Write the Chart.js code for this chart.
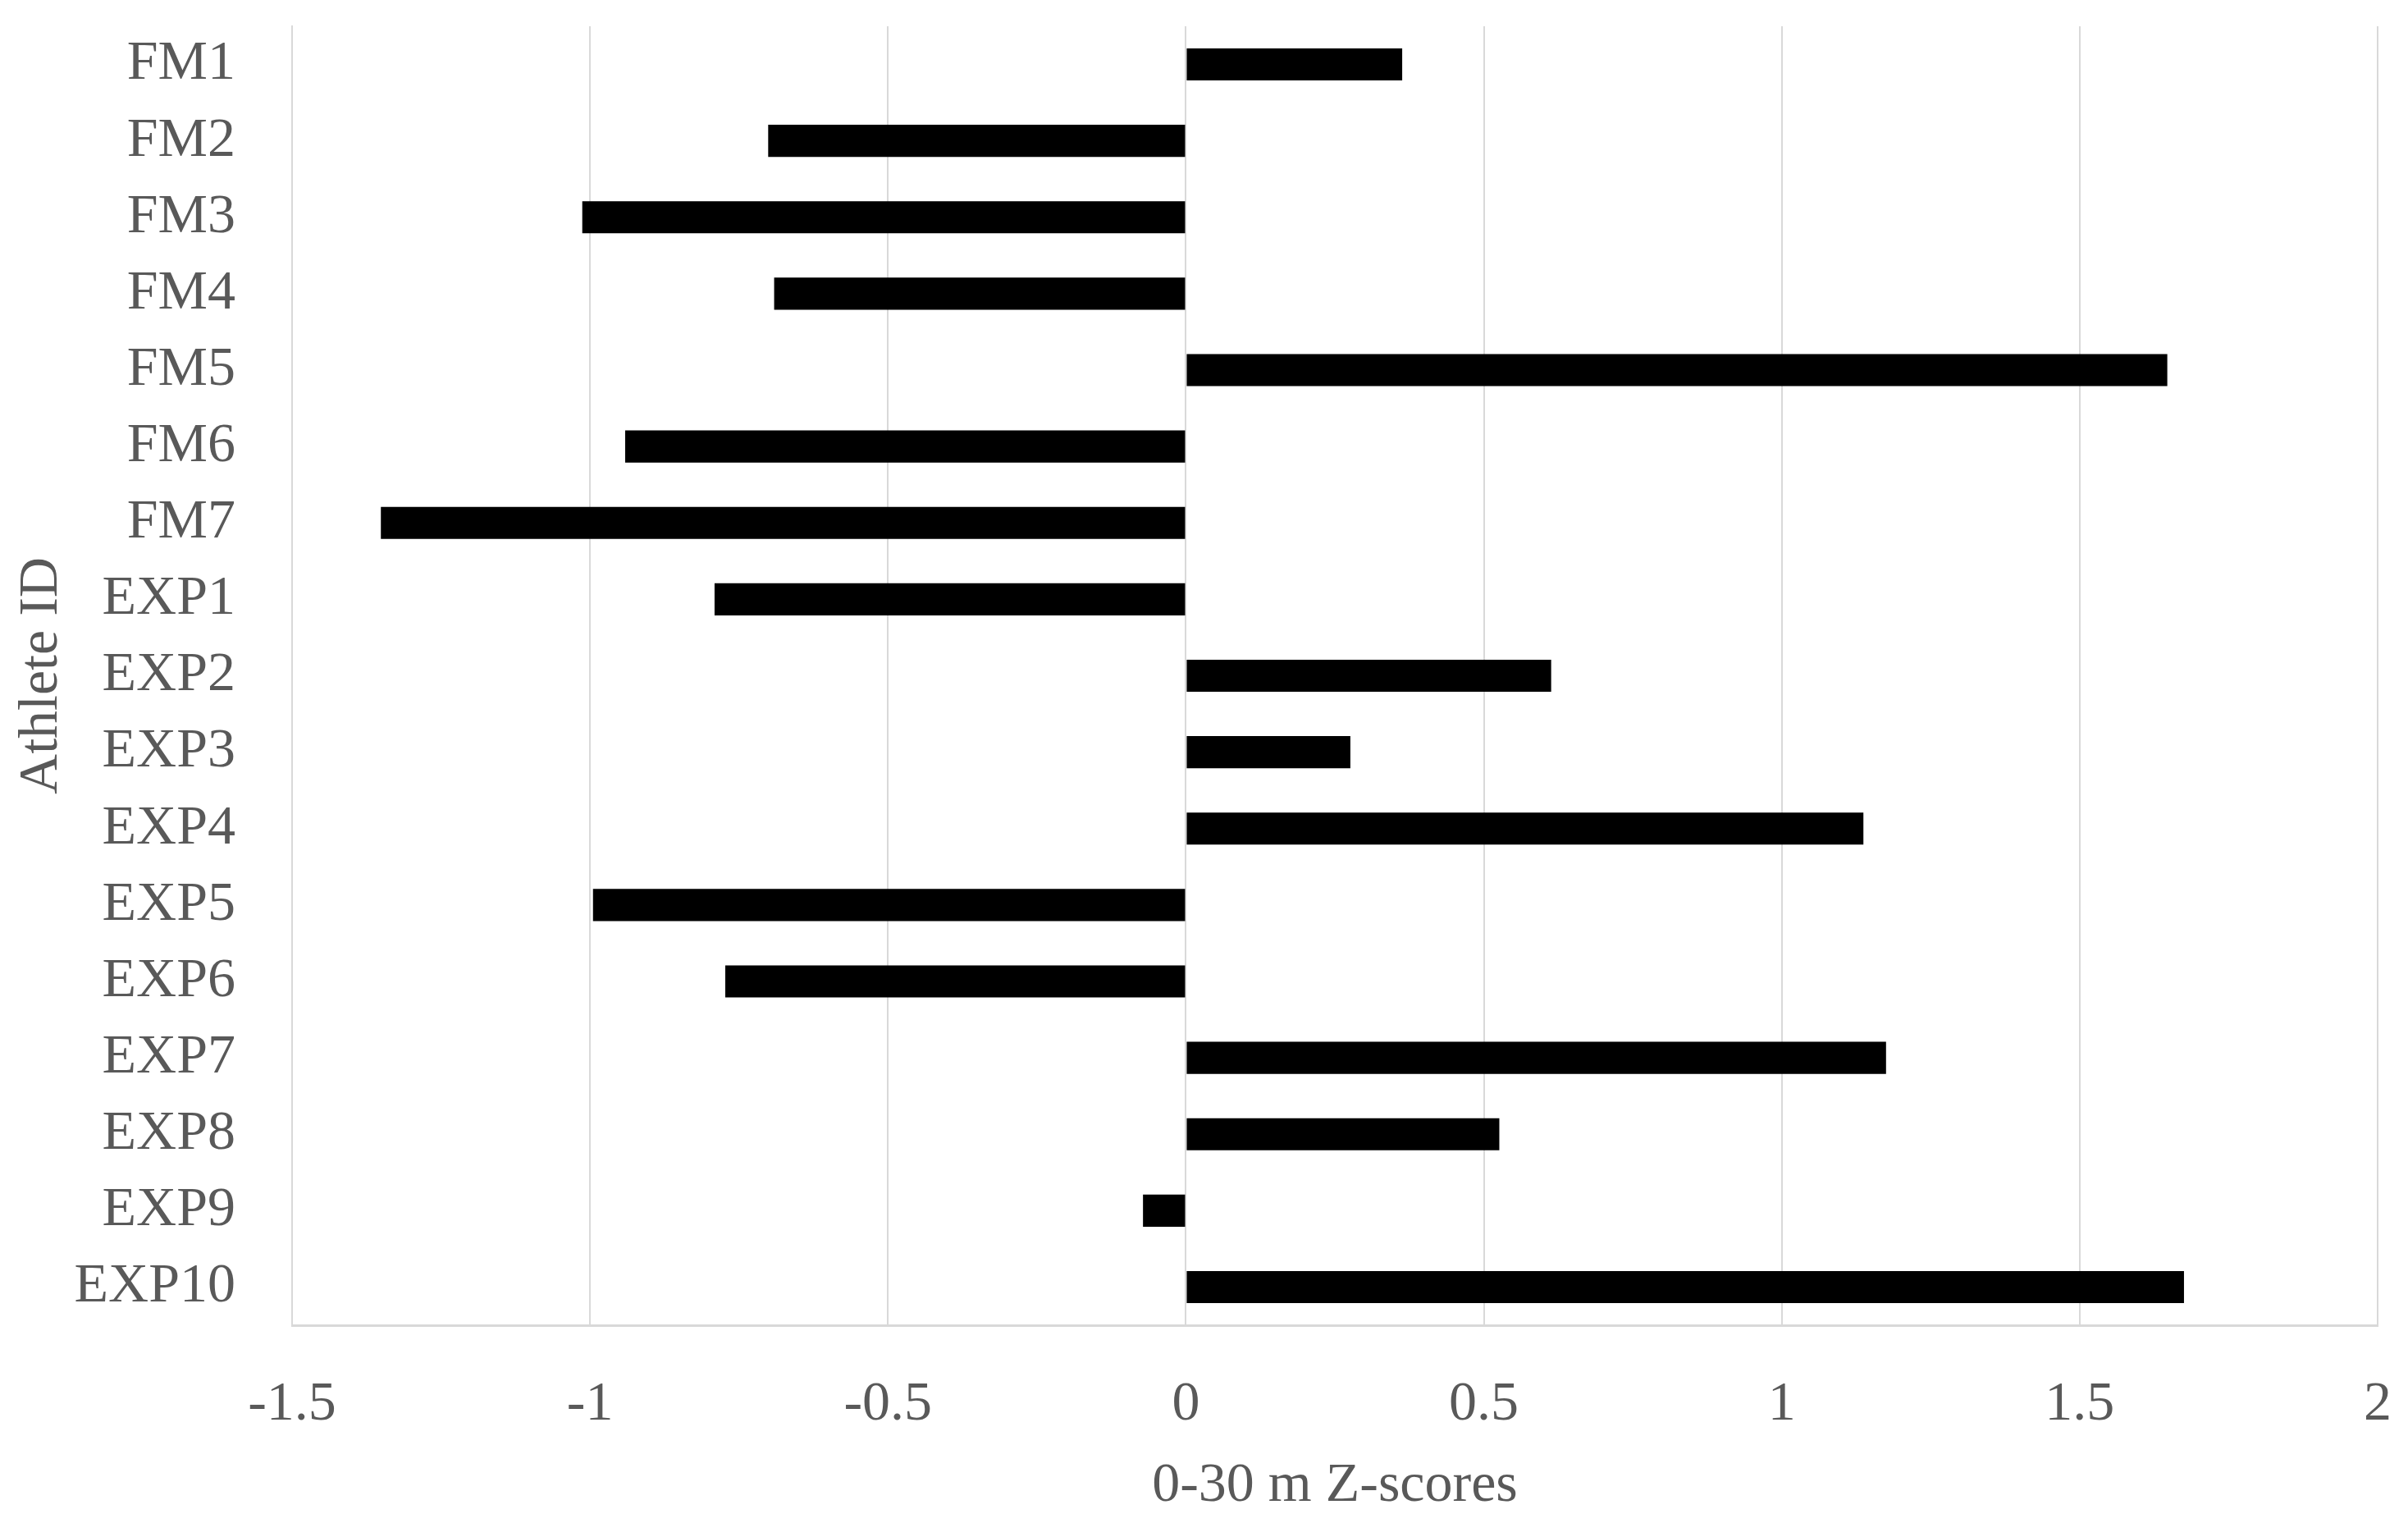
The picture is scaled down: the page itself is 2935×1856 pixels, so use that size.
<!DOCTYPE html>
<html>
<head>
<meta charset="utf-8">
<script src="https://cdn.jsdelivr.net/npm/chart.js@4"></script>
<style>
html,body{margin:0;padding:0;background:#fff;}
#wrap{width:2935px;height:1856px;position:relative;}
</style>
</head>
<body>
<div id="wrap"><canvas id="c" width="2935" height="1856"></canvas></div>
<script>
const athleteIds = ["FM1","FM2","FM3","FM4","FM5","FM6","FM7","EXP1","EXP2","EXP3","EXP4","EXP5","EXP6","EXP7","EXP8","EXP9","EXP10"];
const zScores = [0.363,-0.701,-1.013,-0.691,1.647,-0.941,-1.351,-0.791,0.613,0.276,1.137,-0.995,-0.773,1.175,0.526,-0.072,1.675];
const xTicks = [-1.5,-1,-0.5,0,0.5,1,1.5,2];
const xTitle = "0-30 m Z-scores";
const yTitle = "Athlete ID";

const FONT = "'Liberation Serif', 'Times New Roman', serif";
const TXT = "#595959";
const GRID = "#d9d9d9";

new Chart(document.getElementById('c'), {
  type: 'bar',
  data: {
    labels: athleteIds,
    datasets: [{
      data: zScores,
      backgroundColor: '#000000',
      borderWidth: 0,
      categoryPercentage: 1.0,
      barPercentage: 0.42
    }]
  },
  options: {
    indexAxis: 'y',
    responsive: false,
    animation: false,
    devicePixelRatio: 1,
    layout: { padding: { top: 32, right: 37, left: 0, bottom: 0 } },
    plugins: { legend: { display: false }, tooltip: { enabled: false } },
    scales: {
      x: {
        type: 'linear',
        min: -1.5, max: 2,
        afterBuildTicks: (s) => { s.ticks = xTicks.map(v => ({ value: v })); },
        afterFit: (s) => { s.height = 241; s.paddingLeft = 0; s.paddingRight = 0; s.paddingTop = 0; s.paddingBottom = 0; },
        grid: { color: GRID, lineWidth: 2, drawTicks: false },
        border: { color: GRID, width: 3 },
        ticks: {
          color: TXT, padding: 56,
          font: { family: FONT, size: 68 },
          callback: (v) => String(v)
        },
        title: {
          display: true, text: xTitle, color: TXT,
          font: { family: FONT, size: 68 },
          padding: { top: 0, bottom: 4 }
        }
      },
      y: {
        type: 'category',
        afterFit: (s) => { s.width = 356; s.paddingLeft = 0; s.paddingRight = 0; s.paddingTop = 0; s.paddingBottom = 0; },
        grid: { display: false, drawTicks: false },
        border: { color: GRID, width: 2 },
        ticks: {
          color: TXT, padding: 69,
          font: { family: FONT, size: 68 }
        },
        title: {
          display: true, text: yTitle, color: TXT,
          font: { family: FONT, size: 68 },
          padding: { top: 10, bottom: 0 }
        }
      }
    }
  }
});
</script>
</body>
</html>
